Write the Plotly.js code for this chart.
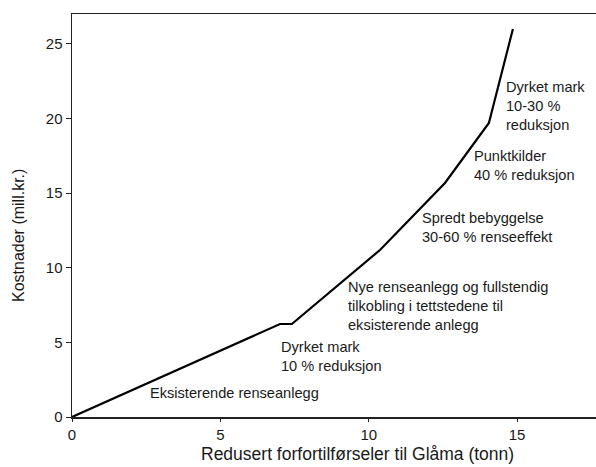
<!DOCTYPE html>
<html>
<head>
<meta charset="utf-8">
<script src="https://cdn.plot.ly/plotly-3.0.1.min.js"></script>
<style>html,body{margin:0;padding:0;background:#fff;}#chart{width:596px;height:467px;}</style>
</head>
<body>
<div id="chart"></div>
<script>
// Reduction in load (tonn) vs cost (mill. kr.)
const reduction = [0, 7.01, 7.41, 10.38, 12.57, 14.05, 14.86];
const cost      = [0, 6.23, 6.23, 11.19, 15.68, 19.70, 26.0];

const labelTexts = [
  "Eksisterende renseanlegg",
  "Dyrket mark<br>10 % reduksjon",
  "Nye renseanlegg og fullstendig<br>tilkobling i tettstedene til<br>eksisterende anlegg",
  "Spredt bebyggelse<br>30-60 % renseeffekt",
  "Punktkilder<br>40 % reduksjon",
  "Dyrket mark<br>10-30 %<br>reduksjon"
];
const labelX = [2.56, 6.98, 9.23, 11.73, 13.48, 14.56];
const labelY = [1.6, 4.06, 7.44, 12.67, 16.86, 20.84];

const xTicks = [0, 5, 10, 15];
const yTicks = [0, 5, 10, 15, 20, 25];

const xTitle = "Redusert forfortilførseler til Glåma (tonn)";
const yTitle = "Kostnader (mill.kr.)";

const font = "Liberation Sans, Arial, sans-serif";
const ink = "#1a1a1a";

const annotations = labelTexts.map((t, i) => ({
  x: labelX[i], y: labelY[i], xref: "x", yref: "y",
  text: t, showarrow: false, xanchor: "left", yanchor: "middle", align: "left",
  font: {family: font, size: 14.6, color: ink}
}));
annotations.push({
  x: (357-72)/524, y: -(454-417)/403, xref: "paper", yref: "paper", text: xTitle,
  showarrow: false, xanchor: "center", yanchor: "middle",
  font: {family: font, size: 17.5, color: ink}
});
annotations.push({
  x: (18-72)/524, y: (417-236)/403, xref: "paper", yref: "paper", text: yTitle,
  showarrow: false, xanchor: "center", yanchor: "middle", textangle: -90,
  font: {family: font, size: 16, color: ink}
});

const trace = {
  x: reduction, y: cost, type: "scatter", mode: "lines",
  line: {color: "#000", width: 2.2}, hoverinfo: "skip"
};

const layout = {
  width: 596, height: 467,
  margin: {l: 72, r: 0, t: 14, b: 50},
  paper_bgcolor: "#fff", plot_bgcolor: "#fff",
  showlegend: false,
  font: {family: font, size: 14, color: ink},
  xaxis: {
    range: [0, 17.66], tickvals: xTicks, ticks: "outside", ticklen: 3,
    tickcolor: "#222", showline: true, linecolor: "#222", linewidth: 1.5,
    mirror: true, showgrid: false, zeroline: false,
    tickfont: {family: font, size: 15, color: ink}
  },
  yaxis: {
    range: [0, 27.0], tickvals: yTicks, ticks: "outside", ticklen: 5,
    tickcolor: "#222", showline: true, linecolor: "#222", linewidth: 1.5,
    showgrid: false, zeroline: false,
    tickfont: {family: font, size: 15, color: ink}
  },
  annotations: annotations
};

Plotly.newPlot("chart", [trace], layout, {staticPlot: true, displayModeBar: false});
</script>
</body>
</html>
